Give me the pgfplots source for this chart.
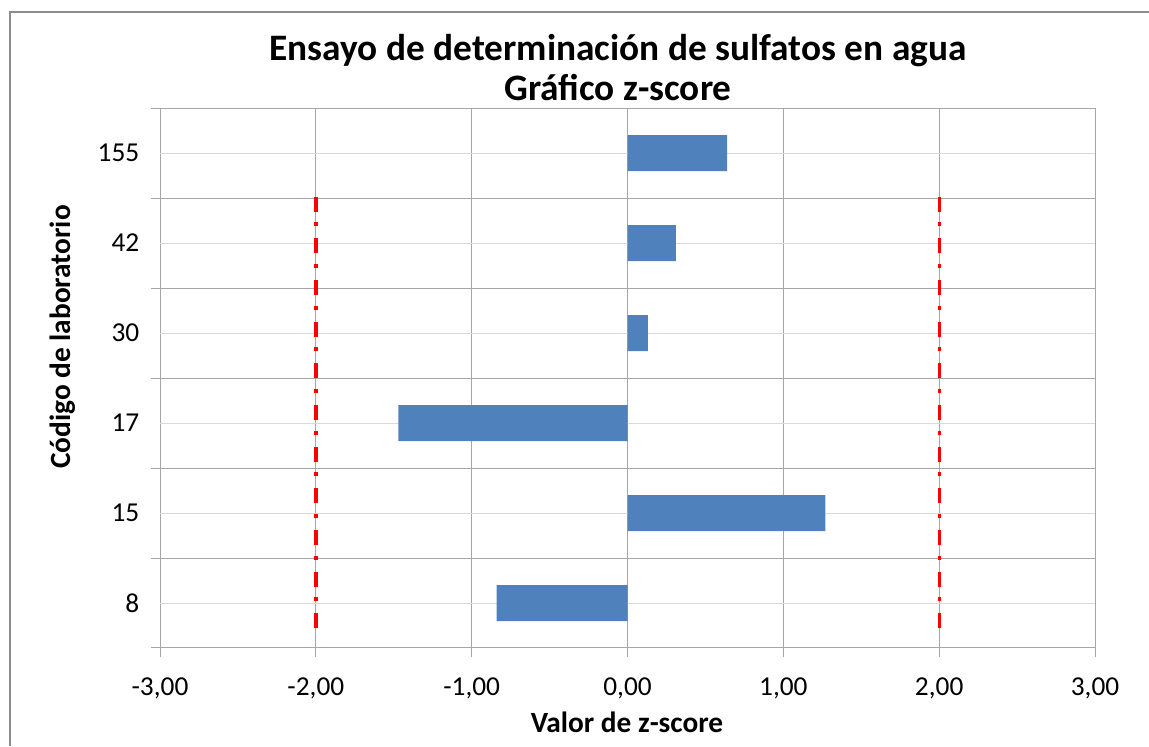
\documentclass[border=0pt]{standalone}
\usepackage{pgfplots}
\pgfplotsset{compat=1.18}
\usepackage{fontspec}
\setmainfont{Carlito}
\definecolor{barblue}{HTML}{4F81BD}
\definecolor{gridd}{HTML}{A6A6A6}
\definecolor{gridl}{HTML}{D9D9D9}
\definecolor{framec}{HTML}{8C8C8C}
\begin{document}
\begin{tikzpicture}[x=0.75pt,y=0.75pt]
\useasboundingbox (0,0) rectangle (1149,746);
\draw[framec, line width=1.5pt] (10,0) -- (10,734) -- (1149,734);
\begin{axis}[
  at={(120pt,73.5pt)}, anchor=south west,
  scale only axis, width=701.25pt, height=405pt,
  xmin=-3, xmax=3, ymin=0.5, ymax=6.5,
  xtick={-3,-2,-1,0,1,2,3},
  xticklabels={{-3,00},{-2,00},{-1,00},{0,00},{1,00},{2,00},{3,00}},
  ytick={0.5,1.5,2.5,3.5,4.5,5.5,6.5}, yticklabels={},
  extra y ticks={1,2,3,4,5,6},
  extra y tick labels={8,15,17,30,42,155},
  extra y tick style={major tick length=0pt, grid style={draw=gridl, line width=0.75pt}},
  grid=major, grid style={draw=gridd, line width=0.75pt},
  axis line style={draw=gridd, line width=0.75pt},
  tick style={draw=gridd, line width=0.75pt},
  tick align=outside, major tick length=7pt,
  xtick pos=bottom, ytick pos=left,
  ticklabel style={font=\fontsize{20.5}{24}\selectfont},
  xticklabel style={yshift=-12pt},
  yticklabel style={xshift=-12pt},
]
\addplot[xbar, bar width=0.4, fill=barblue, draw=none] coordinates {
  (-0.84,1) (1.27,2) (-1.47,3) (0.13,4) (0.31,5) (0.64,6)
};
\addplot[red, line width=2.5pt, line cap=butt, dash pattern=on 11.25pt off 9pt on 3pt off 8pt] coordinates {(-2,0.72) (-2,5.53)};
\addplot[red, line width=2.5pt, line cap=butt, dash pattern=on 11.25pt off 9pt on 3pt off 8pt] coordinates {(2,0.72) (2,5.53)};
\end{axis}
\node[align=center, font=\bfseries\fontsize{28}{30}\selectfont] at (618,678) {Ensayo de determinación de sulfatos en agua\\Gráfico z-score};
\node[rotate=90, font=\bfseries\fontsize{22}{26}\selectfont] at (63,409) {Código de laboratorio};
\node[font=\bfseries\fontsize{22}{26}\selectfont] at (627,24) {Valor de z-score};
\end{tikzpicture}
\end{document}
